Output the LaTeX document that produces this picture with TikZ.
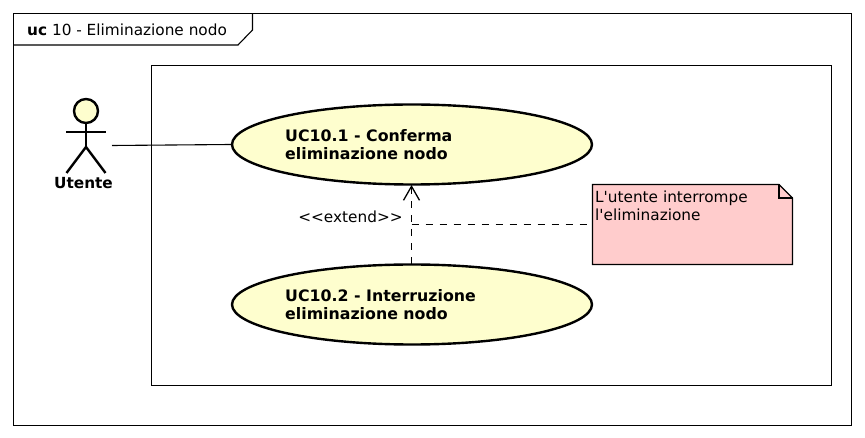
\documentclass[tikz,border=0pt]{standalone}
\usepackage{fontspec}
\setmainfont{DejaVu Sans}[Ligatures=TeXOff]
\usetikzlibrary{shapes.geometric,arrows.meta}
\definecolor{ucfill}{HTML}{FEFECE}
\definecolor{notefill}{HTML}{FFCCCC}
\tikzset{
  x=1pt,y=-1pt,
  thinline/.style={draw=black,line width=1.1pt},
  usecase/.style={ellipse,draw=black,line width=2.4pt,fill=ucfill,minimum width=360pt,minimum height=80pt,inner sep=0pt},
  uclabel/.style={anchor=west,align=left,font=\fontsize{15.8}{18}\selectfont\bfseries,inner sep=0pt},
  plain/.style={inner sep=0pt,font=\fontsize{15.3}{18}\selectfont},
  dashline/.style={draw=black,line width=1.3pt,dash pattern=on 7pt off 7pt},
  actorline/.style={draw=black,line width=2.4pt}
}
\begin{document}
\begin{tikzpicture}
\useasboundingbox (0,0) rectangle (865,438);
% frame
\draw[thinline] (13.5,13.5) rectangle (851.5,425.5);
\draw[thinline] (13.5,45) -- (238,45) -- (252.5,30) -- (252.5,13.5);
\node[plain,anchor=base west] (title) at (27,35.5) {\textbf{uc} 10 - Eliminazione nodo};
% boundary
\draw[thinline] (151.5,65.5) rectangle (831.5,385.5);
% actor
\node[circle,draw=black,line width=2.4pt,fill=ucfill,minimum size=24pt,inner sep=0pt] (head) at (86,111) {};
\coordinate (hip) at (86,147);
\coordinate (shoulderL) at (66,132);
\coordinate (shoulderR) at (106,132);
\coordinate (footL) at (66.5,173);
\coordinate (footR) at (105.5,173);
\draw[actorline] (head.south) -- (hip);
\draw[actorline] (shoulderL) -- (shoulderR);
\draw[actorline] (footL) -- (hip) -- (footR);
\node[plain,anchor=base,font=\fontsize{15.3}{18}\selectfont\bfseries] (actor) at (83.5,189) {Utente};
\coordinate (actorR) at (112,145.5);
% use cases
\node[usecase] (uc1) at (412,144.5) {};
\node[usecase] (uc2) at (412,304.5) {};
\node[uclabel] (uc1t) at (285,144.5) {UC10.1 - Conferma\\eliminazione nodo};
\node[uclabel] (uc2t) at (285,304.5) {UC10.2 - Interruzione\\eliminazione nodo};
% association
\draw[thinline] (actorR) -- (uc1.west);
% note
\path[draw=black,line width=1.1pt,fill=notefill] (592.5,184.5) -- (779,184.5) -- (792.5,198) -- (792.5,264.5) -- (592.5,264.5) -- cycle;
\draw[thinline] (779,184.5) -- (779,198) -- (792.5,198);
\coordinate (noteW) at (592.5,224.5);
\node[plain,anchor=base west] (notet) at (595,202.5) {L'utente interrompe};
\node[plain,anchor=base west] (notet2) at (595,220.5) {l'eliminazione};
% extend
\coordinate (tipBase) at (411.5,264);
\coordinate (tipEnd) at (411.5,185);
\draw[dashline,-{Straight Barb[length=14pt,width=16pt,line width=1.3pt]}] (tipBase) -- (tipEnd);
\coordinate (junction) at (411.5,224.5);
\draw[dashline,line width=1.5pt] (junction) -- (noteW);
\node[plain,anchor=base] (ext) at (350.5,222.5) {<{}<extend>{}>};
\end{tikzpicture}
\end{document}
